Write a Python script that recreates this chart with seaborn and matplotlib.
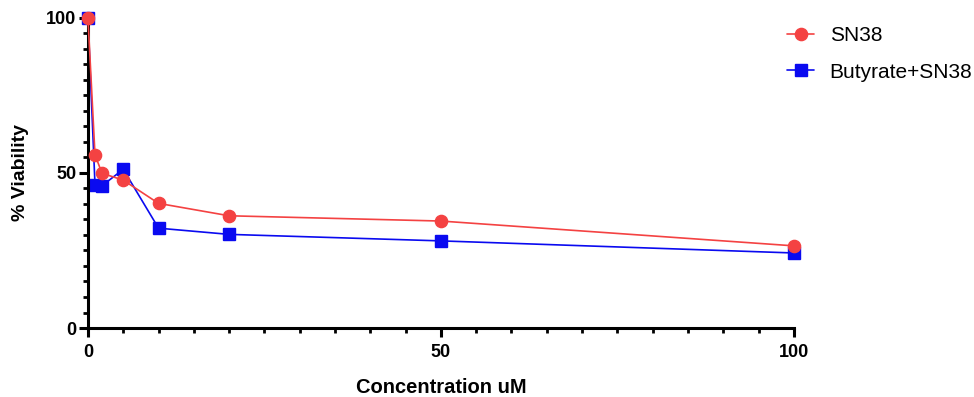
import matplotlib
matplotlib.use("Agg")
import matplotlib.pyplot as plt
import seaborn as sns
import pandas as pd
from matplotlib.ticker import MultipleLocator

conc = [0, 1, 2, 5, 10, 20, 50, 100]
sn38 = [100, 55.8, 49.9, 47.7, 40.2, 36.2, 34.5, 26.5]
buty_sn38 = [100, 46.1, 45.9, 51.2, 32.2, 30.2, 28.1, 24.2]
series_names = ["SN38", "Butyrate+SN38"]
x_ticks = [0, 50, 100]
y_ticks = [0, 50, 100]

sns.set_theme(style="ticks")
plt.rcParams['font.family'] = ['Liberation Sans', 'DejaVu Sans']
for k in ["text.color", "axes.labelcolor", "xtick.color", "ytick.color", "axes.edgecolor"]:
    plt.rcParams[k] = "black"

df = pd.concat([
    pd.DataFrame({"conc": conc, "val": sn38, "series": series_names[0]}),
    pd.DataFrame({"conc": conc, "val": buty_sn38, "series": series_names[1]}),
])

fig = plt.figure(figsize=(9.74, 3.97), dpi=100)
ax = fig.add_axes([0.0903, 0.1738, 0.815 - 0.0903, 0.9547 - 0.1738])

styles = {
    series_names[0]: dict(color="#F44242", marker="o", markersize=8.8),
    series_names[1]: dict(color="#0A0AF0", marker="s", markersize=8.4),
}
for name in series_names[::-1]:
    sub = df[df["series"] == name]
    st = styles[name]
    sns.lineplot(data=sub, x="conc", y="val", ax=ax, color=st["color"],
                 marker=st["marker"], markersize=st["markersize"],
                 markeredgecolor=st["color"], markeredgewidth=1.0,
                 linewidth=1.2, label=name, legend=True,
                 clip_on=False, zorder=3 if name == series_names[0] else 2)

ax.set_xlim(0, 100)
ax.set_ylim(0, 100)
ax.set_xticks(x_ticks)
ax.set_yticks(y_ticks)
ax.xaxis.set_minor_locator(MultipleLocator(5))
ax.yaxis.set_minor_locator(MultipleLocator(5))
for s in ["top", "right"]:
    ax.spines[s].set_visible(False)
for s in ["left", "bottom"]:
    ax.spines[s].set_linewidth(2.2)
    ax.spines[s].set_color("black")
ax.tick_params(which="major", length=6.5, width=2.2, direction="out", colors="black", pad=2)
ax.tick_params(which="minor", length=3.8, width=2.0, direction="out", colors="black")
for lab in ax.get_xticklabels() + ax.get_yticklabels():
    lab.set_fontweight("bold")
    lab.set_fontsize(13)
ax.xaxis.set_tick_params(pad=5)
ax.set_xlabel("Concentration uM", fontsize=14.5, fontweight="bold", labelpad=12)
ax.set_ylabel("% Viability", fontsize=14, fontweight="bold", labelpad=12)

h, l = ax.get_legend_handles_labels()
if ax.get_legend() is not None:
    ax.get_legend().remove()
order = [l.index(n) for n in series_names]
fig.legend([h[i] for i in order], [l[i] for i in order], loc="upper left",
           bbox_to_anchor=(787 / 974, 1 - 26 / 397), frameon=False, fontsize=15,
           handlelength=1.3, handletextpad=0.75, labelspacing=0.85,
           borderpad=0, borderaxespad=0)

fig.savefig("out.png", dpi=100)
